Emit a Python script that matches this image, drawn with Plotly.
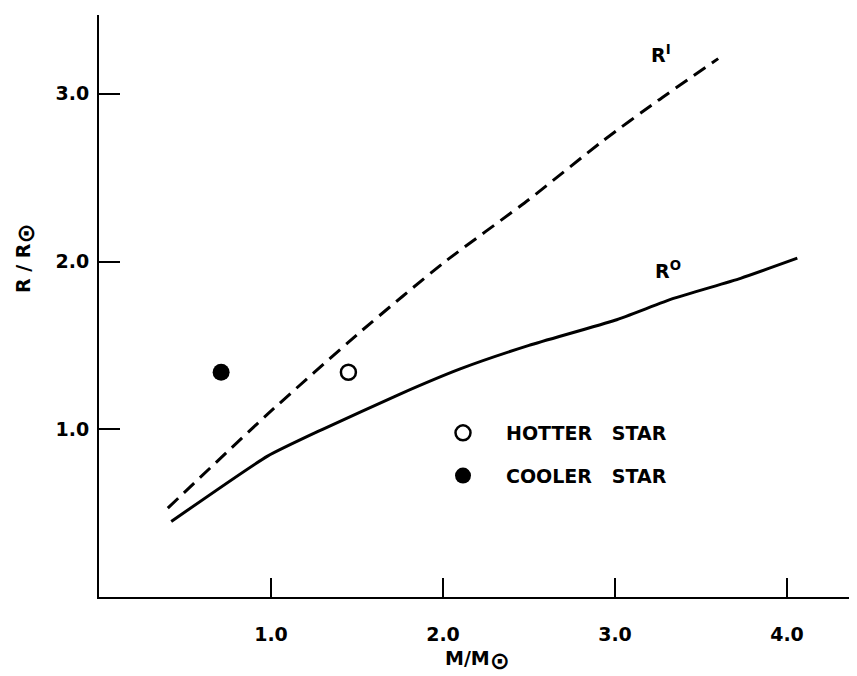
import plotly.graph_objects as go

# R^I (dashed) curve
ri_mass = [0.40, 0.98, 1.53, 2.00, 2.50, 2.93, 3.25, 3.60]
ri_radius = [0.53, 1.09, 1.59, 1.99, 2.37, 2.72, 2.96, 3.21]
# R^O (solid) curve
ro_mass = [0.42, 0.98, 1.30, 1.75, 2.10, 2.50, 3.00, 3.34, 3.73, 4.06]
ro_radius = [0.45, 0.84, 1.00, 1.21, 1.36, 1.50, 1.65, 1.78, 1.90, 2.02]
# stars
hot_mass, hot_radius = [1.45], [1.34]
cool_mass, cool_radius = [0.71], [1.34]

tick_vals = [1.0, 2.0, 3.0, 4.0]
tick_text = ["1.0", "2.0", "3.0", "4.0"]
ytick_vals = [1.0, 2.0, 3.0]
ytick_text = ["1.0", "2.0", "3.0"]

FONT = "DejaVu Sans"
SP = "\u00a0\u00a0\u00a0"
SUN = "<sub><span style='font-size:24px'>⊙</span></sub>"

W, H = 849, 676
L, R, T, B = 91, 2, 7, 87
PW = W - L - R
PH = H - T - B


def px_x(p):
    return (p - 8 - L) / PW


def px_y(p):
    return (8 + T + PH - p) / PH


fig = go.Figure()
fig.add_trace(go.Scatter(x=ri_mass, y=ri_radius, mode="lines", showlegend=False,
                         line=dict(color="black", width=3, dash="14px,8px", shape="spline", smoothing=0.6)))
fig.add_trace(go.Scatter(x=ro_mass, y=ro_radius, mode="lines", showlegend=False,
                         line=dict(color="black", width=3, shape="spline", smoothing=0.5)))
fig.add_trace(go.Scatter(x=hot_mass, y=hot_radius, mode="markers", name="HOTTER" + SP + "STAR",
                         legendgroup="a",
                         marker=dict(symbol="circle-open", size=15, color="black", line=dict(width=2.5, color="black"))))
fig.add_trace(go.Scatter(x=cool_mass, y=cool_radius, mode="markers", name="COOLER" + SP + "STAR",
                         legendgroup="b",
                         marker=dict(symbol="circle", size=17, color="black")))

fig.update_layout(
    width=W, height=H,
    margin=dict(l=L, r=R, t=T, b=B),
    plot_bgcolor="white", paper_bgcolor="white",
    font=dict(family=FONT, color="black", size=17),
    legend=dict(x=px_x(420), y=px_y(414), xanchor="left", yanchor="top",
                font=dict(family=FONT, size=19, weight="bold"),
                bgcolor="rgba(0,0,0,0)", tracegroupgap=15, itemwidth=76),
    xaxis=dict(range=[0, (855 - 99) / 172], showgrid=False, zeroline=False, showline=True,
               linecolor="black", linewidth=2, ticks="inside", ticklen=19, tickwidth=2,
               tickcolor="black", tickvals=tick_vals, ticktext=tick_text,
               tickfont=dict(family=FONT, size=19, weight="bold"), ticklabelstandoff=19),
    yaxis=dict(range=[0, 3.47], showgrid=False, zeroline=False, showline=True,
               linecolor="black", linewidth=2, ticks="inside", ticklen=21, tickwidth=2,
               tickcolor="black", tickvals=ytick_vals, ticktext=ytick_text,
               tickfont=dict(family=FONT, size=19, weight="bold"), ticklabelstandoff=4),
    annotations=[
        dict(text="R / R" + SUN, xref="paper", yref="paper", x=px_x(26), y=px_y(258),
             xanchor="center", yanchor="middle",
             textangle=-90, showarrow=False, font=dict(size=19, weight="bold")),
        dict(text="M/M" + SUN, xref="paper", yref="paper", x=px_x(478), y=px_y(661),
             xanchor="center", yanchor="middle",
             showarrow=False, font=dict(size=19, weight="bold")),
        dict(text="R<sup>I</sup>", x=3.27, y=3.24, showarrow=False,
             font=dict(size=19, weight="bold")),
        dict(text="R<sup>O</sup>", x=3.31, y=1.95, showarrow=False,
             font=dict(size=19, weight="bold")),
    ],
)

fig.write_html("out.html")
